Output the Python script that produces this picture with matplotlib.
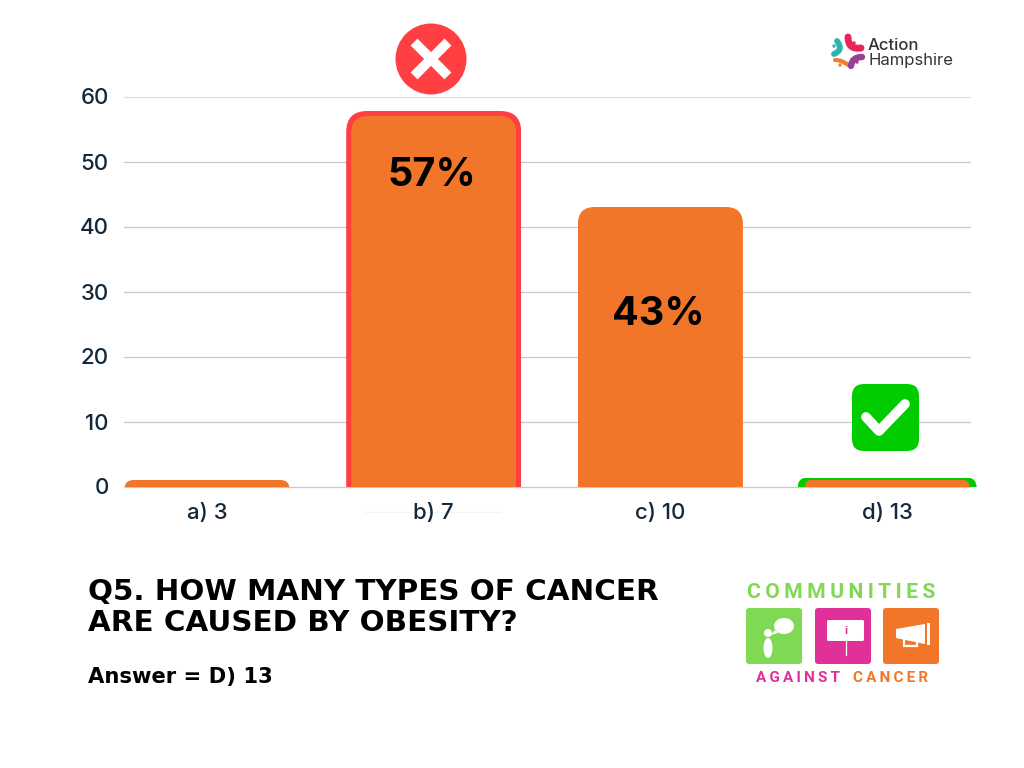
import matplotlib
matplotlib.use("Agg")
import matplotlib.pyplot as plt
from matplotlib.patches import FancyBboxPatch, Circle, Ellipse, Polygon, Rectangle, PathPatch
from matplotlib.path import Path
from matplotlib.transforms import IdentityTransform

categories = ["a) 3", "b) 7", "c) 10", "d) 13"]
values = [1, 57, 43, 1]
percent_labels = {1: ("57%", 47.8), 2: ("43%", 26.4)}
yticks = [0, 10, 20, 30, 40, 50, 60]
title_lines = ["Q5. HOW MANY TYPES OF CANCER", "ARE CAUSED BY OBESITY?"]
answer = "Answer = D) 13"

ORANGE = "#f2762a"
RED = "#ff3f42"
GREEN = "#00cc00"
INK = "#12293d"
FONT = ["Inter", "DejaVu Sans"]
plt.rcParams["font.family"] = FONT

fig = plt.figure(figsize=(10.24, 7.68), dpi=100, facecolor="white")
W, H = 1024, 768
L, R, B, T = 124, 970, 486.5, 96.5
ax = fig.add_axes([L / W, 1 - B / H, (R - L) / W, (B - T) / H])
step = 226.7
ax.set_xlim((L - 207) / step, (R - 207) / step)
ax.set_ylim(0, 60)
ax.set_facecolor("none")
for s in ax.spines.values():
    s.set_visible(False)
ax.set_yticks(yticks)
ax.set_xticks(range(len(categories)), categories)
ax.tick_params(length=0)
ax.tick_params(axis="y", labelsize=16, labelcolor=INK, pad=11)
ax.tick_params(axis="x", labelsize=16, labelcolor=INK, pad=12)
for lab in ax.get_xticklabels() + ax.get_yticklabels():
    lab.set_fontweight("medium")
ax.grid(axis="y", color="#c9c9c9", lw=0.9)
ax.set_axisbelow(True)
for g in ax.get_ygridlines():
    g.set_clip_on(False)
ax.get_ygridlines()[-1].set_color("#e2e2e2")

def round_top(bar, radius):
    x0, y0 = ax.transData.transform((bar.get_x(), bar.get_y()))
    x1, y1 = ax.transData.transform((bar.get_x() + bar.get_width(), bar.get_height()))
    clip = FancyBboxPatch((x0, y0 - 3 * radius), x1 - x0, y1 - y0 + 3 * radius,
                          boxstyle=f"round,pad=0,rounding_size={radius}",
                          transform=IdentityTransform())
    bar.set_clip_box(None)
    bar.set_clip_path(clip)

width = 165 / step
xs = range(len(values))
# outlines of the marked answers sit behind their bars
for idx, colour, grow_x, grow_top, r in [(1, RED, 10, 5, 21), (3, GREEN, 14, 2.5, 10)]:
    outline = ax.bar(idx, values[idx] + grow_top / 6.5, width + grow_x / step,
                     color=colour, zorder=2)[0]
    round_top(outline, r)
bars = ax.bar(xs, values, width, color=ORANGE, zorder=3)
for bar, r in zip(bars, [9, 17, 17, 7]):
    round_top(bar, r)
for idx, (text, y) in percent_labels.items():
    ax.text(idx - 0.01, y, text, ha="center", va="center",
            fontsize=28.5, fontweight="bold", color="black", zorder=4)

# overlay in pixel coordinates for the badges, captions and logos
under = fig.add_axes([0, 0, 1, 1])
under.set_xlim(0, W)
under.set_ylim(H, 0)
under.axis("off")
under.patch.set_alpha(0)
under.set_zorder(-1)

# faint rule under the b) 7 label
under.plot([365, 500], [511.5, 511.5], color="#f4f4f4", lw=0.8)

ov = fig.add_axes([0, 0, 1, 1], sharex=under, sharey=under)
ov.axis("off")
ov.patch.set_alpha(0)

# red cross badge
ov.add_patch(Circle((431, 59), 35.5, color=RED, lw=0))
ov.plot([417.5, 444.5], [45.5, 72.5], color="white", lw=7, solid_capstyle="projecting")
ov.plot([444.5, 417.5], [45.5, 72.5], color="white", lw=7, solid_capstyle="projecting")

# green tick badge
ov.add_patch(FancyBboxPatch((852, 384), 67, 67, boxstyle="round,pad=0,rounding_size=12",
                            fc=GREEN, ec="none"))
ov.plot([866, 879, 905], [417, 431, 404], color="white", lw=7,
        solid_capstyle="round", solid_joinstyle="round")

# captions
CAP = ["DejaVu Sans"]
for line, y in zip(title_lines, [592, 623]):
    ov.text(88, y, line, fontsize=21.2, fontweight="bold", color="black", va="center", ha="left", family=CAP)
ov.text(88, 677, answer, fontsize=15.2, fontweight="bold", color="black", va="center", ha="left", family=CAP)

# Action Hampshire logo
def curve(pts, colour, lw):
    codes = [Path.MOVETO] + [Path.CURVE3] * (len(pts) - 1)
    ov.add_patch(PathPatch(Path(pts, codes), fc="none", ec=colour, lw=lw, capstyle="round"))

curve([(837, 41), (844, 50), (834, 54)], "#2bb5ad", 4.2)
curve([(848, 37), (848, 50), (861, 48)], "#e8265e", 5.0)
curve([(835, 60), (842, 60), (848, 65)], "#f07d32", 3.0)
curve([(851, 66), (852, 57), (862, 57)], "#9b3f95", 4.6)
for xy, c in [((854, 43), "#e8265e"), ((834, 46), "#2bb5ad"), ((840, 65), "#f07d32"), ((857, 62), "#9b3f95")]:
    ov.add_patch(Circle(xy, 1.7, color=c, lw=0))
ov.text(868, 45.5, "Action", fontsize=12, color="#333333", va="center", ha="left", fontweight="medium")
ov.text(868, 60.5, "Hampshire", fontsize=12, color="#333333", va="center", ha="left")

# Communities Against Cancer logo
def track(s):
    return "\u2009".join(s)

LG, LM, LO = "#80d955", "#e0319a", "#f2762a"
ov.text(841, 592.5, track("COMMUNITIES"), fontsize=15.2, fontweight="bold", color=LG,
        family=["Roboto", "DejaVu Sans"], ha="center", va="center")
ov.text(798, 678, track("AGAINST"), fontsize=11, fontweight="bold", color=LM,
        family=["Roboto", "DejaVu Sans"], ha="center", va="center")
ov.text(891, 678, track("CANCER"), fontsize=11, fontweight="bold", color=LO,
        family=["Roboto", "DejaVu Sans"], ha="center", va="center")
for x0, c in [(746, LG), (815, LM), (883, LO)]:
    ov.add_patch(FancyBboxPatch((x0, 608), 56, 56, boxstyle="round,pad=0,rounding_size=3", fc=c, ec="none"))
# person with speech bubble
ov.add_patch(Circle((768, 633), 4, color="white", lw=0))
ov.add_patch(Ellipse((768, 648), 9, 20, color="white", lw=0))
ov.add_patch(Ellipse((784, 626), 20, 16, color="white", lw=0))
ov.add_patch(Polygon([(775, 630), (778, 633), (771, 635)], color="white", lw=0))
# placard
ov.add_patch(FancyBboxPatch((827, 620), 37, 21, boxstyle="round,pad=0,rounding_size=1.5", fc="white", ec="none"))
ov.plot([845.5, 845.5], [641, 655], color="white", lw=0.9)
ov.text(845.5, 631, "i", fontsize=8, fontweight="bold", color=LM, ha="center", va="center")
# megaphone
ov.add_patch(Polygon([(896, 629), (925, 624), (925, 644), (896, 638)], color="white", lw=0))
ov.add_patch(Rectangle((927, 623), 3, 22, color="white", lw=0))
ov.add_patch(Rectangle((904, 639), 13, 7, fc="none", ec="white", lw=1.6))

fig.savefig("out.png", dpi=100)
